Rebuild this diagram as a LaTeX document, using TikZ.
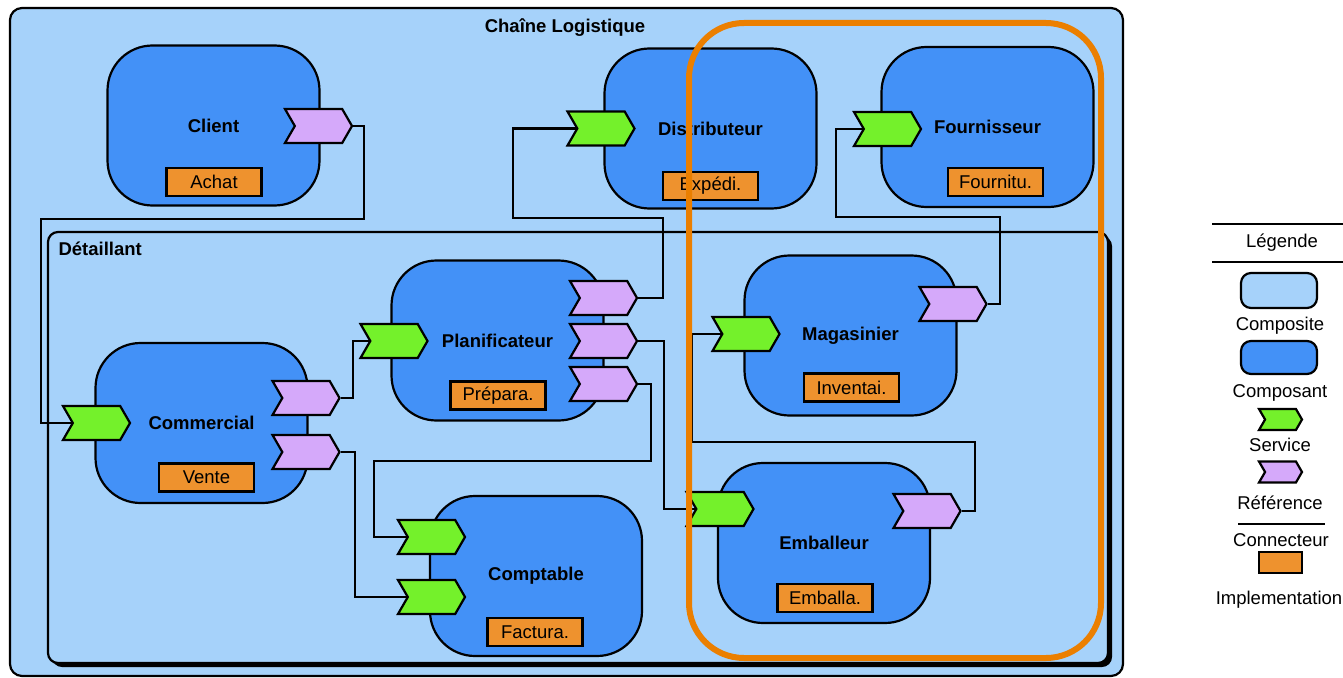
\documentclass[tikz,border=0pt]{standalone}
\usepackage{fontspec}
\setmainfont{Liberation Sans}
\usetikzlibrary{shapes.symbols}

\definecolor{compositeblue}{HTML}{A6D2FA}
\definecolor{componentblue}{HTML}{4391F7}
\definecolor{servicegreen}{HTML}{74F12B}
\definecolor{reflilac}{HTML}{D5A9FA}
\definecolor{implorange}{HTML}{EE922E}
\definecolor{hiorange}{HTML}{EB7F00}

\newcommand{\lblfont}{\fontsize{18.5}{22}\selectfont}

\pgfdeclarelayer{back}
\pgfdeclarelayer{mid}
\pgfsetlayers{back,mid,main}

\tikzset{
  composite/.style={draw=black, line width=2.2pt, fill=compositeblue, rounded corners=12pt},
  component/.style={draw=black, line width=2.2pt, fill=componentblue, rounded corners=45pt,
    minimum width=212pt, minimum height=160pt, font=\bfseries\lblfont},
  impl/.style={draw=black, line width=2.2pt, fill=implorange, minimum width=95pt,
    minimum height=28pt, inner sep=0pt, font=\lblfont},
  chev/.style={shape=signal, signal from=west, signal to=east, signal pointer angle=120,
    draw=black, line width=2.2pt, minimum width=67pt, minimum height=34pt, inner sep=0pt},
  service/.style={chev, fill=servicegreen},
  reference/.style={chev, fill=reflilac},
  wire/.style={draw=black, line width=2.2pt},
  legtext/.style={font=\lblfont},
}

\begin{document}
\begin{tikzpicture}[x=1pt, y=-1pt]
\useasboundingbox (0,0) rectangle (1343,677);

\begin{pgfonlayer}{back}
% outer composite
\draw[composite] (10,8) rectangle (1123,676);
\node[font=\bfseries\lblfont] (titre) at (565,28) {Chaîne Logistique};

% inner composite with its shadow
\fill[black, rounded corners=10pt] (52,236) rectangle (1112,667);
\draw[composite, rounded corners=10pt] (48,232) rectangle (1108,663);
\node[font=\bfseries\lblfont, anchor=west] (detail) at (55,249) {Détaillant};

% components
\node[component] (client)  at (213.5,125.5) {Client};
\node[component] (comm)    at (201.5,423)   {Commercial};
\node[component] (plan)    at (497.5,340.5) {Planificateur};
\node[component] (compta)  at (536,576)     {Comptable};
\node[component] (distrib) at (710.5,128.5) {Distributeur};
\node[component] (fourn)   at (987.5,127)   {Fournisseur};
\node[component] (magas)   at (850.5,335.5) {Magasinier};
\node[component] (emball)  at (824,543)     {Emballeur};
\end{pgfonlayer}

% services and references
\node[reference] (cliR)  at (318.5,126) {};
\node[service]   (comS)  at (96.5,423)  {};
\node[reference] (comR1) at (306,398)   {};
\node[reference] (comR2) at (306,452)   {};
\node[service]   (plaS)  at (394,341)   {};
\node[reference] (plaR1) at (603.5,298) {};
\node[reference] (plaR2) at (603.5,341) {};
\node[reference] (plaR3) at (603.5,384) {};
\node[service]   (cptS1) at (431.5,537) {};
\node[service]   (cptS2) at (431.5,597) {};
\node[service]   (disS)  at (601,128.5) {};
\node[service]   (fouS)  at (887.5,129) {};
\node[service]   (magS)  at (746,334)   {};
\node[reference] (magR)  at (953,304)   {};
\node[service]   (embS)  at (720,509)   {};
\node[reference] (embR)  at (927,511)   {};

% connectors
\begin{pgfonlayer}{mid}
\draw[wire] (cliR.east) -- (364,126) -- (364,219) -- (41,219) |- (comS.west);
\draw[wire] (comR1.east) -- (353,398) |- (plaS.west);
\draw[wire] (comR2.east) -- (355,452) |- (cptS2.west);
\draw[wire] (plaR1.east) -- (663,298) -- (663,218) -- (513,218) |- (disS.west);
\draw[wire] (plaR2.east) -- (664,341) |- (embS.west);
\draw[wire] (plaR3.east) -- (651,384) -- (651,461) -- (374,461) |- (cptS1.west);
\draw[wire] (embR.east) -- (975,511) -- (975,442) -- (692,442) |- (magS.west);
\draw[wire] (magR.east) -- (1000,304) -- (1000,217) -- (836,217) |- (fouS.west);
\end{pgfonlayer}

% implementations
\node[impl] (iAchat)  at (214,182)     {Achat};
\node[impl] (iVente)  at (206.5,477.5) {Vente};
\node[impl] (iPrep)   at (498,395.5)   {Prépara.};
\node[impl] (iFact)   at (535,632)     {Factura.};
\node[impl] (iExped)  at (710.5,186)   {Expédi.};
\node[impl] (iFourn)  at (995.5,182)   {Fournitu.};
\node[impl] (iInvent) at (851.5,387.5) {Inventai.};
\node[impl] (iEmball) at (825,598)     {Emballa.};

% highlighted group
\draw[hiorange, line width=6pt, rounded corners=55pt] (689,23) rectangle (1101,658);

% legend
\draw[line width=1.4pt] (1212,224) -- (1343,224);
\node[legtext] (lgTitle) at (1282,243) {Légende};
\draw[line width=1.4pt] (1212,262) -- (1343,262);
\draw[composite, rounded corners=10pt] (1241,273) rectangle (1317,308);
\node[legtext] (lgComposite) at (1280,326) {Composite};
\draw[line width=2.2pt, fill=componentblue, rounded corners=10pt] (1241,341) rectangle (1317,374);
\node[legtext] (lgComposant) at (1280,393) {Composant};
\node[service, minimum width=43pt, minimum height=21pt] (lgS) at (1280.5,419.5) {};
\node[legtext] (lgService) at (1280,445) {Service};
\node[reference, minimum width=43pt, minimum height=21pt] (lgR) at (1280.5,472) {};
\node[legtext] (lgRef) at (1280,503) {Référence};
\coordinate (lgA) at (1238,524);
\coordinate (lgB) at (1325,524);
\draw[line width=2.5pt] (lgA) -- (lgB);
\node[legtext] (lgConn) at (1281,540) {Connecteur};
\draw[line width=2.2pt, fill=implorange] (1259,552) rectangle (1302,573);
\node[legtext] (lgImpl) at (1279,600) {Implementation};
\end{tikzpicture}
\end{document}
